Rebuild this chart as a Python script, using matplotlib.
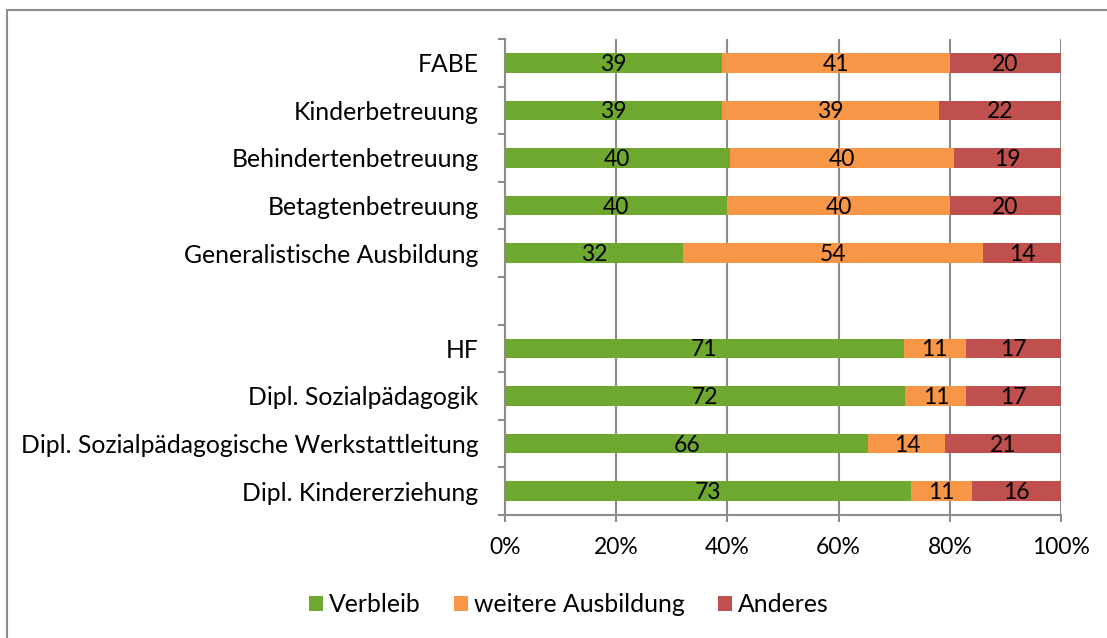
import matplotlib.pyplot as plt
import numpy as np
from matplotlib.lines import Line2D

plt.rcParams['font.family'] = ['Lato', 'DejaVu Sans']

# Data (percent labels as shown on the chart)
categories = ['FABE', 'Kinderbetreuung', 'Behindertenbetreuung', 'Betagtenbetreuung',
              'Generalistische Ausbildung', '', 'HF', 'Dipl. Sozialpädagogik',
              'Dipl. Sozialpädagogische Werkstattleitung', 'Dipl. Kindererziehung']
verbleib = [39, 39, 40, 40, 32, 0, 71, 72, 66, 73]
weitere = [41, 39, 40, 40, 54, 0, 11, 11, 14, 11]
anderes = [20, 22, 19, 20, 14, 0, 17, 17, 21, 16]
series_names = ['Verbleib', 'weitere Ausbildung', 'Anderes']
colors = ['#6FA82F', '#F79646', '#C0504D']

W, H = 1107, 638
fig = plt.figure(figsize=(W / 100, H / 100), dpi=100)
ax = fig.add_axes([505 / W, 1 - 515 / H, (1061 - 505) / W, (515 - 39) / H])

vals = np.array([verbleib, weitere, anderes], dtype=float)
tot = vals.sum(axis=0)
tot[tot == 0] = 1
pct = vals / tot * 100
y = np.arange(len(categories))

left = np.zeros(len(categories))
for i in range(3):
    ax.barh(y, pct[i], left=left, height=0.41, color=colors[i], label=series_names[i],
            linewidth=0, zorder=3)
    for j in range(len(categories)):
        if vals[i][j] > 0:
            ax.text(left[j] + pct[i][j] / 2, y[j] + 0.03, str(int(vals[i][j])),
                    ha='center', va='center', fontsize=16.5, color='black', zorder=4)
    left += pct[i]

ax.set_xlim(0, 100)
ax.set_ylim(len(categories) - 0.5, -0.5)
ax.set_xticks(np.arange(0, 101, 20))
ax.set_xticklabels([f'{v}%' for v in range(0, 101, 20)], fontsize=16.5)
ax.set_yticks(y)
ax.set_yticklabels(categories, fontsize=17.8)
ax.set_yticks(np.arange(-0.5, len(categories), 1), minor=True)
ax.tick_params(axis='y', which='major', length=0, pad=19)
ax.tick_params(axis='y', which='minor', length=5, width=1.5, color='#8C8C8C')
ax.tick_params(axis='x', which='major', length=5, width=1.5, color='#8C8C8C', pad=11)
ax.grid(axis='x', color='#8C8C8C', linewidth=1.5, zorder=0)
ax.set_axisbelow(True)
for s in ['top', 'right']:
    ax.spines[s].set_visible(False)
for s in ['left', 'bottom']:
    ax.spines[s].set_color('#8C8C8C')
    ax.spines[s].set_linewidth(1.5)

handles, labels = ax.get_legend_handles_labels()
fig.legend(handles, labels, loc='center', bbox_to_anchor=(569 / W, 1 - 605 / H), ncol=3,
           frameon=False, fontsize=17.8, handlelength=0.57, handleheight=0.57,
           handletextpad=0.25, columnspacing=1.33)

# chart border (top and left visible)
fig.add_artist(Line2D([7 / W, 1], [1 - 10 / H, 1 - 10 / H], transform=fig.transFigure,
                      color='#8C8C8C', linewidth=1.5))
fig.add_artist(Line2D([7 / W, 7 / W], [0, 1 - 10 / H], transform=fig.transFigure,
                      color='#8C8C8C', linewidth=1.5))

fig.savefig('out.png', dpi=100)
